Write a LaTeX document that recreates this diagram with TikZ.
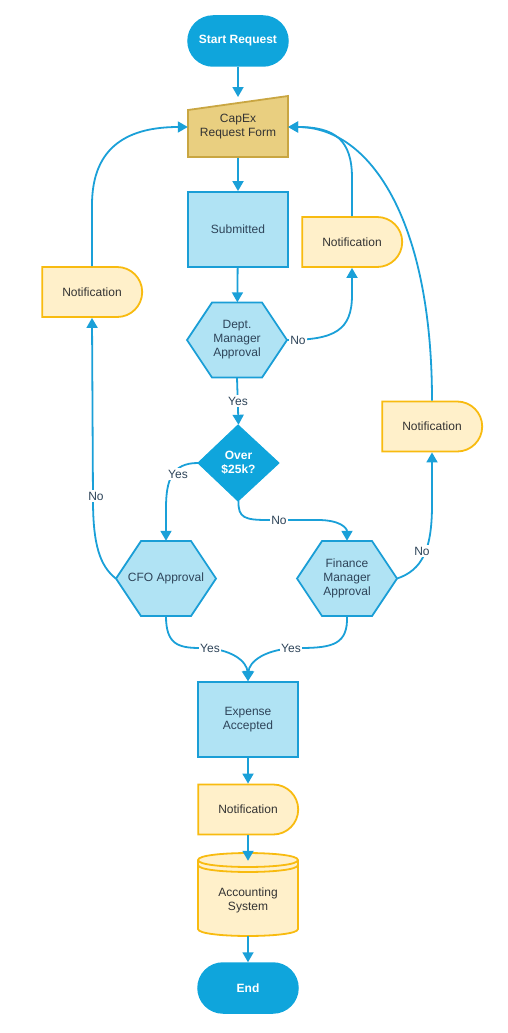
\documentclass[tikz,border=0pt]{standalone}
\usepackage{fontspec}
\setmainfont{Liberation Sans}
\usetikzlibrary{shapes.misc,arrows.meta,calc}
\definecolor{dblue}{HTML}{0FA5DC}
\definecolor{lblue}{HTML}{B0E3F4}
\definecolor{bblue}{HTML}{1A9ED6}
\definecolor{conc}{HTML}{1AA0D8}
\definecolor{gfill}{HTML}{E9CF80}
\definecolor{gbord}{HTML}{C9A642}
\definecolor{yfill}{HTML}{FFF0CA}
\definecolor{ybord}{HTML}{F8BB10}
\definecolor{tdark}{HTML}{2E4459}
\definecolor{tgray}{HTML}{333333}
\newcommand\myhex[4]{%
  \draw[hexst] (#2-50,#3) -- (#2-25,#3-37.5) -- (#2+25,#3-37.5) -- (#2+50,#3) -- (#2+25,#3+37.5) -- (#2-25,#3+37.5) -- cycle;
  \node[minimum width=100pt, minimum height=75pt, text=tdark] (#1) at (#2,#3) {#4};}
\begin{document}
\begin{tikzpicture}[x=1pt,y=-1pt,
  every node/.style={font=\fontsize{12}{14}\selectfont, align=center, inner sep=0pt},
  term/.style={draw=dblue, fill=dblue, rounded corners=25pt, minimum width=100pt, minimum height=50pt, text=white, font=\fontsize{12}{14}\selectfont\bfseries, line width=1.5pt},
  box/.style={draw=bblue, fill=lblue, line width=1.8pt, minimum width=100pt, minimum height=75pt, text=tdark},
  notif/.style={rounded rectangle, rounded rectangle left arc=none, draw=ybord, fill=yfill, line width=1.8pt, minimum width=100pt, minimum height=50pt, text=tgray},
  hexst/.style={draw=bblue, fill=lblue, line width=1.8pt},
  conn/.style={draw=conc, line width=1.8pt, -{Triangle[width=11pt,length=10pt]}},
  lbl/.style={fill=white, text=tdark, inner sep=1.5pt},
]
\useasboundingbox (0,0) rectangle (508,1033);

% shapes
\node[term] (start) at (238,41) {Start Request};

\draw[draw=gbord, fill=gfill, line width=1.8pt] (188,110) -- (288,96) -- (288,157) -- (188,157) -- cycle;
\node[minimum width=100pt, minimum height=61pt, text=tgray] (capex) at (238,127) {CapEx\\Request Form};
\coordinate (capextop) at (238,97);

\node[box] (sub) at (238,229.5) {Submitted};

\myhex{dept}{237}{340}{Dept.\\Manager\\Approval}

\node[notif] (n1) at (92,292) {Notification};
\node[notif] (n2) at (352,242) {Notification};
\node[notif] (n3) at (432,426.5) {Notification};

\draw[draw=dblue, fill=dblue, line width=1pt] (198,463) -- (238,425) -- (279,463) -- (238,501) -- cycle;
\node[minimum width=81pt, minimum height=76pt, text=white, font=\fontsize{12}{14}\selectfont\bfseries] (dia) at (238.5,463) {Over\\\$25k?};

\myhex{cfo}{166}{578.5}{CFO Approval}
\myhex{fin}{347}{578.5}{Finance\\Manager\\Approval}

\node[box] (exp) at (248,719.5) {Expense\\Accepted};
\node[notif] (n4) at (248,809.5) {Notification};

% accounting system (data store)
\draw[draw=ybord, fill=yfill, line width=1.8pt]
  (198,860) -- (198,929) .. controls (198,938.3) and (298,938.3) .. (298,929) -- (298,860)
  .. controls (298,850.7) and (198,850.7) .. (198,860) -- cycle;
\draw[draw=ybord, line width=1.8pt] (198,860) .. controls (198,869.3) and (298,869.3) .. (298,860);
\draw[draw=ybord, line width=1.8pt] (198,865) .. controls (198,874.3) and (298,874.3) .. (298,865);
\node[minimum width=100pt, minimum height=83pt] (acc) at (248,894.5) {};
\node[text=tgray] (acctext) at (248,900) {Accounting\\System};

\node[term] (end) at (248,988) {End};

% connectors
\draw[conn] (start) -- (capextop);
\draw[conn] (capex.south) -- (sub);
\draw[conn] (sub) -- (dept);
\draw[conn] (dept.east) .. controls (335,340) and (352,330) .. (352,295) -- (n2.south);
\draw[conn] (n2.north) -- (352,178) .. controls (352,140) and (335,127) .. (capex.east);
\draw[conn] (n3.north) .. controls (432,220) and (370,127) .. (capex.east);
\draw[conn] (dept.south) -- (dia.north);
\draw[conn] (dia.west) .. controls (172,463) and (166,480) .. (166,508) -- (cfo.north);
\draw[conn] (dia.south) .. controls (238,518) and (245,520) .. (268,520) -- (318,520) .. controls (340,520) and (347,528) .. (fin.north);
\draw[conn] (cfo.west) .. controls (100,566) and (93,545) .. (93,500) -- (n1.south);
\draw[conn] (n1.north) -- (92,205) .. controls (92,145) and (130,127) .. (capex.west);
\draw[conn] (fin.east) .. controls (422,570) and (432,550) .. (432,505) -- (n3.south);
\draw[conn] (cfo.south) .. controls (166,644) and (178,648) .. (200,648) .. controls (232,648) and (247,662) .. (exp.north);
\draw[conn] (fin.south) .. controls (348,644) and (333,648) .. (300,648) .. controls (265,648) and (249,662) .. (exp.north);
\draw[conn] (exp) -- (n4);
\draw[conn] (n4.south) -- ($(acc.north)+(0,8)$);
\draw[conn] (acc.south) -- (end);

% labels
\node[lbl] (l1) at (298,340) {No};
\node[lbl] (l2) at (238,401) {Yes};
\node[lbl] (l3) at (178,474) {Yes};
\node[lbl] (l4) at (279,520) {No};
\node[lbl] (l5) at (96,496) {No};
\node[lbl] (l6) at (422,551) {No};
\node[lbl] (l7) at (210,648) {Yes};
\node[lbl] (l8) at (291,648) {Yes};
\end{tikzpicture}
\end{document}
